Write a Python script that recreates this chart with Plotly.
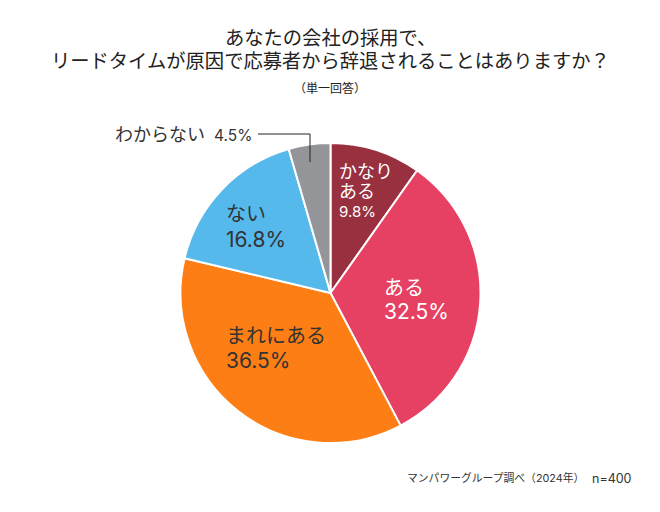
import plotly.graph_objects as go

labels = ["かなりある", "ある", "まれにある", "ない", "わからない"]
values = [9.8, 32.5, 36.5, 16.8, 4.5]
colors = ["#98303f", "#e64063", "#fd7e14", "#56b9ec", "#939598"]
title_lines = ["あなたの会社の採用で、", "リードタイムが原因で応募者から辞退されることはありますか？"]
font_family = "Inter, Noto Sans CJK JP, sans-serif"

fig = go.Figure(go.Pie(
    labels=labels, values=values, sort=False, direction="clockwise", rotation=0,
    marker=dict(colors=colors, line=dict(color="white", width=2)),
    textinfo="none", hoverinfo="label+percent", showlegend=False,
    domain=dict(x=[180.5/660, 480.5/660], y=[1-443.5/512, 1-142.5/512]),
))

# every text line is its own annotation, so the line gaps can follow the picture
def text_line(x, y, text, color="#333333", size=20, xanchor="left"):
    fig.add_annotation(x=x/660, y=1-y/512, xref="paper", yref="paper", text=text, showarrow=False,
                       font=dict(size=size, color=color, family=font_family),
                       xanchor=xanchor, yanchor="middle", xshift=-2 if xanchor == "left" else 0)

text_line(339, 171, "かなり", "white", 18)
text_line(339, 191, "ある", "white", 18)
text_line(339, 211, f"{values[0]}%", "white", 15)
text_line(384, 288, labels[1], "white", 20)
text_line(384, 311, f"{values[1]}%", "white", 21)
text_line(226, 336, labels[2], size=20)
text_line(226, 360, f"{values[2]}%", size=21)
text_line(226, 214, labels[3], size=20)
text_line(226, 239, f"{values[3]}%", size=21)
text_line(115, 134, labels[4], size=18)
text_line(214, 135, f"{values[4]}%", size=15.5)

# leader for the small slice
fig.add_shape(type="line", xref="paper", yref="paper", x0=258/660, x1=310/660, y0=1-134/512, y1=1-134/512,
              line=dict(color="#222222", width=1))
fig.add_shape(type="line", xref="paper", yref="paper", x0=310/660, x1=310/660, y0=1-134/512, y1=1-162/512,
              line=dict(color="#222222", width=1))

text_line(330, 38, title_lines[0], "#222222", 19.3, "center")
text_line(330, 61, title_lines[1], "#222222", 19.3, "center")
text_line(330, 88, "（単一回答）", "#222222", 12, "center")
text_line(407, 478, "マンパワーグループ調べ（2024年）", "#333333", 10.8)
text_line(634, 478, "n=400", "#333333", 12.5, "right")

fig.update_layout(width=660, height=512, margin=dict(l=0, r=0, t=0, b=0), paper_bgcolor="white")
fig.write_html("out.html", config=dict(displayModeBar=False), post_script="document.body.style.margin='0';")
